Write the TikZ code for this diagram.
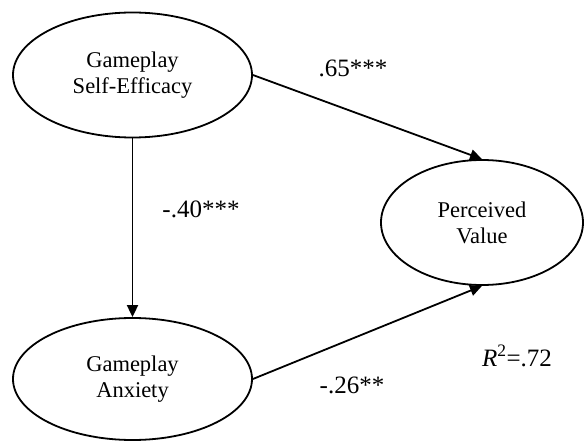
\documentclass[tikz,border=0pt]{standalone}
\usepackage{fontspec}
\setmainfont{Liberation Serif}
\usetikzlibrary{shapes.geometric,arrows.meta}
\newcommand{\lbl}{\fontsize{25}{28}\selectfont}

\begin{document}
\begin{tikzpicture}[x=1pt,y=-1pt,
   latent/.style={draw,ellipse,line width=1.8pt,inner sep=0pt,align=center,
                  font=\fontsize{22.5}{26}\selectfont},
   path/.style={line width=1.8pt,-{Triangle[length=12pt,width=11pt]}},
   coef/.style={anchor=base,font=\lbl}]
   \useasboundingbox (0,0) rectangle (584,441);
   \node[latent,minimum width=239pt,minimum height=125pt] (eff) at (132.5,75)
      {Gameplay\\Self-Efficacy};
   \node[latent,minimum width=239pt,minimum height=122pt] (anx) at (132.5,379)
      {Gameplay\\Anxiety};
   \node[latent,minimum width=202pt,minimum height=125pt] (val) at (482,222.5)
      {Perceived\\Value};
   \draw[path] (eff.east) -- (val.north);
   \draw[path] (eff.south) -- (anx.north);
   \draw[path] (anx.east) -- (val.south);
   \node[coef] (b1) at (353,77) {.65***};
   \node[coef] (b2) at (201,217) {-.40***};
   \node[coef] (b3) at (352,393) {-.26**};
   \node[coef] (r2) at (517,366) {\textit{R}\textsuperscript{2}=.72};
\end{tikzpicture}
\end{document}
